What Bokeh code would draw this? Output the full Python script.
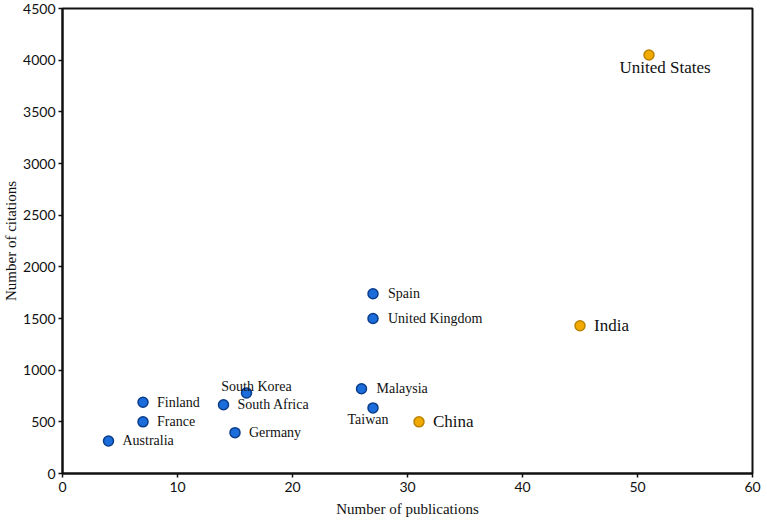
from bokeh.plotting import figure
from bokeh.models import ColumnDataSource, Range1d, FixedTicker
from bokeh.embed import file_html
from bokeh.resources import INLINE
from bokeh.core.properties import value

# ---- data ----
countries = ["United States", "India", "China", "Spain", "United Kingdom", "Malaysia",
             "Taiwan", "South Korea", "South Africa", "Germany", "Finland", "France", "Australia"]
publications = [51, 45, 31, 27, 27, 26, 27, 16, 14, 15, 7, 7, 4]
citations = [4050, 1430, 500, 1740, 1500, 820, 635, 780, 665, 395, 690, 500, 315]
group = ["top", "top", "top", "other", "other", "other", "other", "other", "other",
         "other", "other", "other", "other"]
x_ticks = [0, 10, 20, 30, 40, 50, 60]
y_ticks = [0, 500, 1000, 1500, 2000, 2500, 3000, 3500, 4000, 4500]

# ---- styling (not data) ----
fill_map = {"top": "#f2a900", "other": "#1c6ddc"}
line_map = {"top": "#b98200", "other": "#0a3d8a"}
label_dx = [16, 14, 14, 15, 15, 15, -5, 10, 14, 14, 14, 14, 14]
label_dy = [12, 0, 0, 0, 0, 0, 12, -6, 0, 0, 0, 0, 0]
label_align = ["center", "left", "left", "left", "left", "left", "center", "center",
               "left", "left", "left", "left", "left"]
label_size = ["17px", "17px", "17px", "14px", "14px", "14px", "14px", "14px", "14px",
              "14px", "14px", "14px", "14px"]

src = ColumnDataSource(dict(
    x=publications, y=citations, name=countries,
    fill=[fill_map[g] for g in group], line=[line_map[g] for g in group],
    dx=label_dx, dy=label_dy, align=label_align, size=label_size,
))

p = figure(width=767, height=523, output_backend="svg", toolbar_location=None,
           x_range=Range1d(0, 60), y_range=Range1d(0, 4500),
           min_border_left=61, min_border_right=15, min_border_top=8, min_border_bottom=50)

p.scatter("x", "y", source=src, size=10, fill_color="fill", line_color="line", line_width=1.5)
p.text("x", "y", text="name", source=src, x_offset="dx", y_offset="dy",
       text_align="align", text_baseline="middle", text_font_size="size",
       text_font=value("Liberation Serif"), text_color="#111111")

p.grid.visible = False
p.outline_line_color = "#111111"
p.outline_line_width = 2

for ax in (p.xaxis[0], p.yaxis[0]):
    ax.axis_line_width = 2
    ax.axis_line_color = "#111111"
    ax.major_tick_line_color = "#111111"
    ax.major_tick_line_width = 1.5
    ax.major_tick_out = 4
    ax.major_tick_in = 0
    ax.minor_tick_line_color = None
    ax.major_label_text_font = "Lato"
    ax.major_label_text_font_size = "14px"
    ax.major_label_text_color = "#111111"
    ax.axis_label_text_font = "Liberation Serif"
    ax.axis_label_text_font_style = "normal"
    ax.axis_label_text_font_size = "15px"
    ax.axis_label_text_color = "#111111"

p.xaxis.ticker = FixedTicker(ticks=x_ticks)
p.yaxis.ticker = FixedTicker(ticks=y_ticks)
p.xaxis.axis_label = "Number of publications"
p.yaxis.axis_label = "Number of citations"
p.xaxis.major_label_standoff = 4
p.yaxis.major_label_standoff = 3
p.xaxis.axis_label_standoff = 6
p.yaxis.axis_label_standoff = 1

open("out.html", "w").write(file_html(p, INLINE))
